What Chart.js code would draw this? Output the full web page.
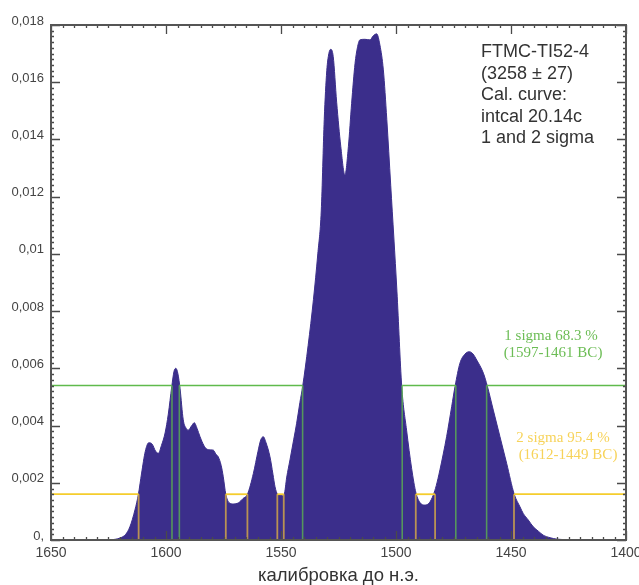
<!DOCTYPE html>
<html>
<head>
<meta charset="utf-8">
<script src="https://cdn.jsdelivr.net/npm/chart.js@4/dist/chart.umd.min.js"></script>
<style>
  html, body { margin: 0; padding: 0; background: #fff; }
  #wrap { width: 639px; height: 585px; position: relative; }
</style>
</head>
<body>
<div id="wrap"><canvas id="myChart"></canvas></div>
<script>
// calibrated probability (years BC, reversed axis)
const years = [1624, 1620, 1617.5, 1615.7, 1613.5, 1612, 1610.6, 1609, 1607.5, 1606, 1604.5, 1603.3, 1602, 1600.4, 1599,
    1597.5, 1596.5, 1595.7, 1594.8, 1593.9, 1592.5, 1591.2, 1590.3, 1588.8, 1587.7, 1586.5, 1585.2, 1583.5, 1582.3,
    1580.5, 1579.4, 1578.3, 1577.3, 1576, 1575.1, 1574, 1572.5, 1570.7, 1568.5, 1566.5, 1564.6, 1562, 1560, 1558.8,
    1557.7, 1556.5, 1554.8, 1553.5, 1552.6, 1551.5, 1550.4, 1549.5, 1548.6, 1547.5, 1546.1, 1544.5, 1543.2, 1541.8,
    1540.6, 1538.2, 1535.9, 1534, 1532.5, 1531.2, 1530.1, 1529.2, 1528.4, 1527.3, 1525.8, 1524, 1522.2, 1520.7,
    1519.3, 1517.8, 1516.8, 1515.7, 1513.5, 1511.3, 1509.9, 1508.4, 1507, 1505.5, 1504, 1502.3, 1499.6, 1497.5,
    1495.4, 1493.2, 1491.3, 1489.5, 1487.4, 1485.5, 1483.8, 1482.5, 1480.9, 1478, 1475.8, 1474.3, 1472.2, 1470,
    1468.1, 1466.5, 1464.9, 1462, 1460.3, 1457.7, 1454.8, 1451.9, 1448.6, 1446.1, 1444.7, 1442.5, 1440.3, 1438,
    1436, 1433, 1430, 1425, 1420];
const prob = [0, 0.00007, 0.0002, 0.00046, 0.00105, 0.0016, 0.00234, 0.0031, 0.0034, 0.00335, 0.0031, 0.00303, 0.0033, 0.00374, 0.0044,
    0.00536, 0.0059, 0.0060, 0.0058, 0.0053, 0.0042, 0.0039, 0.00384, 0.0040, 0.0041, 0.0039, 0.00361, 0.0033, 0.00318,
    0.00315, 0.00314, 0.0030, 0.00291, 0.0026, 0.00221, 0.0016, 0.0013, 0.00126, 0.0013, 0.00145, 0.0016, 0.00233, 0.0031, 0.0035,
    0.00361, 0.0034, 0.00291, 0.0023, 0.00186, 0.0016, 0.00157, 0.00155, 0.0016, 0.0022, 0.0028, 0.0035, 0.00408, 0.0048,
    0.00536, 0.0068, 0.0084, 0.0100, 0.0115, 0.0147, 0.0164, 0.0170, 0.01715, 0.0169, 0.0153, 0.01375, 0.01276, 0.01375,
    0.01526, 0.01666, 0.0172, 0.01748, 0.0175, 0.01748, 0.01762, 0.01769, 0.0173, 0.01643, 0.0147, 0.0124, 0.0087, 0.00536,
    0.00384, 0.0025, 0.00164, 0.0013, 0.00122, 0.0013, 0.00157, 0.0019, 0.00245, 0.00361, 0.00466, 0.00538, 0.00618, 0.0065,
    0.00658, 0.0065, 0.00629, 0.00583, 0.00538, 0.00454, 0.00361, 0.00268, 0.0016, 0.00116, 0.00093, 0.0007, 0.00046, 0.0003,
    0.00017, 0.00008, 0.00003, 0.00001, 0];

const sigma1Level = 0.0054;
const sigma1Ranges = [[1597.4, 1594.2], [1540.6, 1497.3], [1474.0, 1460.6]];
const sigma2Level = 0.0016;
const sigma2Ranges = [[1611.9, 1574.0], [1564.6, 1551.6], [1548.8, 1491.4], [1483.0, 1448.7]];

const xMin = 1400, xMax = 1650, xStep = 50;
const yMin = 0, yMax = 0.018, yStep = 0.002;

const infoLines = ['FTMC-TI52-4', '(3258 \u00b1 27)', 'Cal. curve:', 'intcal 20.14c', '1 and 2 sigma'];
const sigma1Text = ['1 sigma 68.3 %', '(1597-1461 BC)'];
const sigma2Text = ['2 sigma 95.4 %', '(1612-1449 BC)'];

function stepPath(level, ranges) {
    let pts = [{x: xMax, y: level}];
    ranges.forEach(function (r) {
        pts.push({x: r[0], y: level}, {x: r[0], y: 0}, {x: (r[0] + r[1]) / 2, y: null}, {x: r[1], y: 0}, {x: r[1], y: level});
    });
    pts.push({x: xMin, y: level});
    return pts;
}

// vertical pieces are drawn see-through, like in the original
function vertColor(col) {
    return function (c) { return c.p0.parsed.x === c.p1.parsed.x ? col : undefined; };
}

const frame = {
    id: 'frame',
    afterDraw(chart) {
        const c = chart.ctx, a = chart.chartArea;
        const xs = chart.scales.x, ys = chart.scales.y;
        c.save();
        c.strokeStyle = '#4a4a4a';
        c.lineWidth = 1.3;
        for (let v = xMin; v <= xMax; v += 5) {
            const px = Math.round(xs.getPixelForValue(v)) + 0.5;
            const len = (v % xStep === 0) ? 9 : 3;
            c.beginPath();
            c.moveTo(px, a.bottom); c.lineTo(px, a.bottom - len);
            c.moveTo(px, a.top); c.lineTo(px, a.top + len);
            c.stroke();
        }
        for (let i = 0; i <= 90; i++) {
            const py = Math.round(ys.getPixelForValue(i * yStep / 10)) + 0.5;
            const len = (i % 10 === 0) ? 9 : 3;
            c.beginPath();
            c.moveTo(a.left, py); c.lineTo(a.left + len, py);
            c.moveTo(a.right, py); c.lineTo(a.right - len, py);
            c.stroke();
        }
        c.lineWidth = 2;
        c.strokeStyle = '#555';
        c.strokeRect(a.left, a.top, a.right - a.left, a.bottom - a.top);

        c.fillStyle = '#333';
        c.font = '18px "Liberation Sans", Arial, sans-serif';
        c.textBaseline = 'middle';
        c.textAlign = 'left';
        infoLines.forEach(function (t, i) { c.fillText(t, 481, 52 + i * 21.6); });

        c.font = '15px "Liberation Serif", "Times New Roman", serif';
        c.textAlign = 'center';
        c.fillStyle = '#6cbd55';
        c.fillText(sigma1Text[0], 551, 336);
        c.fillText(sigma1Text[1], 553, 353);
        c.fillStyle = '#f7d35a';
        c.fillText(sigma2Text[0], 563, 438);
        c.fillText(sigma2Text[1], 568, 455);
        c.restore();
    }
};

const ctx = document.getElementById('myChart');
new Chart(ctx, {
    type: 'line',
    data: {
        datasets: [
            {
                label: 'sigma1',
                data: stepPath(sigma1Level, sigma1Ranges),
                borderColor: '#5fba4c',
                borderWidth: 1.6,
                pointRadius: 0,
                fill: false,
                segment: {borderColor: vertColor('rgba(95,186,76,0.75)')},
                order: 1
            },
            {
                label: 'sigma2',
                data: stepPath(sigma2Level, sigma2Ranges),
                borderColor: '#f5cd2c',
                borderWidth: 1.8,
                pointRadius: 0,
                fill: false,
                segment: {borderColor: vertColor('rgba(240,190,60,0.7)')},
                order: 2
            },
            {
                label: 'prob',
                data: years.map(function (x, i) { return {x: x, y: prob[i]}; }),
                borderColor: '#3b2e8b',
                backgroundColor: '#3b2e8b',
                borderWidth: 1,
                pointRadius: 0,
                fill: 'origin',
                cubicInterpolationMode: 'monotone',
                order: 3
            }
        ]
    },
    options: {
        responsive: true,
        maintainAspectRatio: false,
        animation: false,
        layout: {padding: {top: 25, right: 13, left: 0, bottom: 0}},
        plugins: {legend: {display: false}, tooltip: {enabled: false}},
        font: {family: '"Liberation Sans", Arial, sans-serif'},
        scales: {
            x: {
                type: 'linear',
                reverse: true,
                min: xMin, max: xMax,
                grid: {display: false, drawTicks: false},
                border: {display: false},
                ticks: {
                    stepSize: xStep,
                    color: '#444',
                    padding: 5,
                    font: {size: 14, family: '"Liberation Sans", Arial, sans-serif'},
                    callback: function (v) { return String(v); }
                },
                title: {
                    display: true,
                    text: 'калибровка до н.э.',
                    color: '#333',
                    padding: {top: 0, bottom: 0},
                    font: {size: 18.5, lineHeight: 1, family: '"Liberation Sans", Arial, sans-serif'}
                },
                afterFit: function (s) { s.height = 45; s.paddingLeft = 0; s.paddingRight = 0; }
            },
            y: {
                min: yMin, max: yMax,
                grid: {display: false, drawTicks: false},
                border: {display: false},
                ticks: {
                    stepSize: yStep,
                    color: '#444',
                    padding: 7,
                    labelOffset: -4,
                    font: {size: 13, family: '"Liberation Sans", Arial, sans-serif'},
                    callback: function (v) {
                        const s = String(Number(v.toFixed(3))).replace('.', ',');
                        return v === 0 ? '0,' : s;
                    }
                },
                afterFit: function (s) { s.width = 51; s.paddingTop = 0; s.paddingBottom = 0; }
            }
        }
    },
    plugins: [frame]
});
</script>
</body>
</html>
